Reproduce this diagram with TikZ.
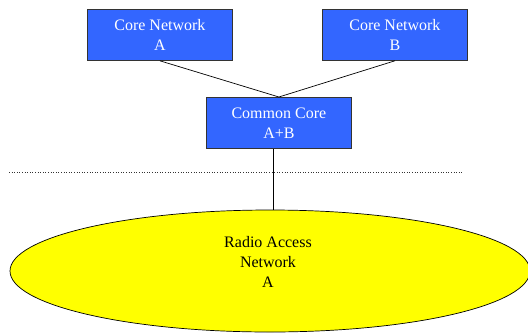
\documentclass[tikz,border=0pt]{standalone}
\usepackage{fontspec}
\setmainfont{Liberation Serif}
\newfontfamily\timesf{Liberation Serif}
\usetikzlibrary{shapes.geometric}
\definecolor{boxblue}{HTML}{3366FF}
\definecolor{ranyellow}{HTML}{FFFF00}
\tikzset{
  corebox/.style={draw=black!80, line width=0.8pt, fill=boxblue, text=white, minimum width=145pt, minimum height=51pt, inner sep=0pt, align=center, font=\timesf\fontsize{16}{20}\selectfont, anchor=north west},
  ran/.style={draw=black, line width=0.7pt, fill=ranyellow, ellipse, minimum width=520pt, minimum height=122pt, inner sep=0pt},
  rantext/.style={align=center, inner sep=0pt, font=\timesf\fontsize{16}{20}\selectfont},
  link/.style={draw=black, line width=0.7pt}
}
\begin{document}
\begin{tikzpicture}[x=1pt,y=-1pt]
\clip (0,0) rectangle (528,333);
\useasboundingbox (0,0) rectangle (528,333);
\node[ran] (ran) at (270,271) {};
\node[rantext] (rant) at (268,262) {Radio Access\\Network\\A};
\node[corebox] (cna) at (87,9) {Core Network\\A};
\node[corebox] (cnb) at (322,9) {Core Network\\B};
\node[corebox] (cc) at (206,97) {Common Core\\A+B};
\draw[link] (cna.south) -- (cc.north);
\draw[link] (cnb.south) -- (cc.north);
\draw[link] ([xshift=-6pt]cc.south) -- ([xshift=-6pt]cc.south |- ran.north);
\coordinate (dl) at (9,172);
\coordinate (dr) at (462,172);
\draw[dotted, line width=0.6pt, black!80] (dl) -- (dr);
\end{tikzpicture}
\end{document}
